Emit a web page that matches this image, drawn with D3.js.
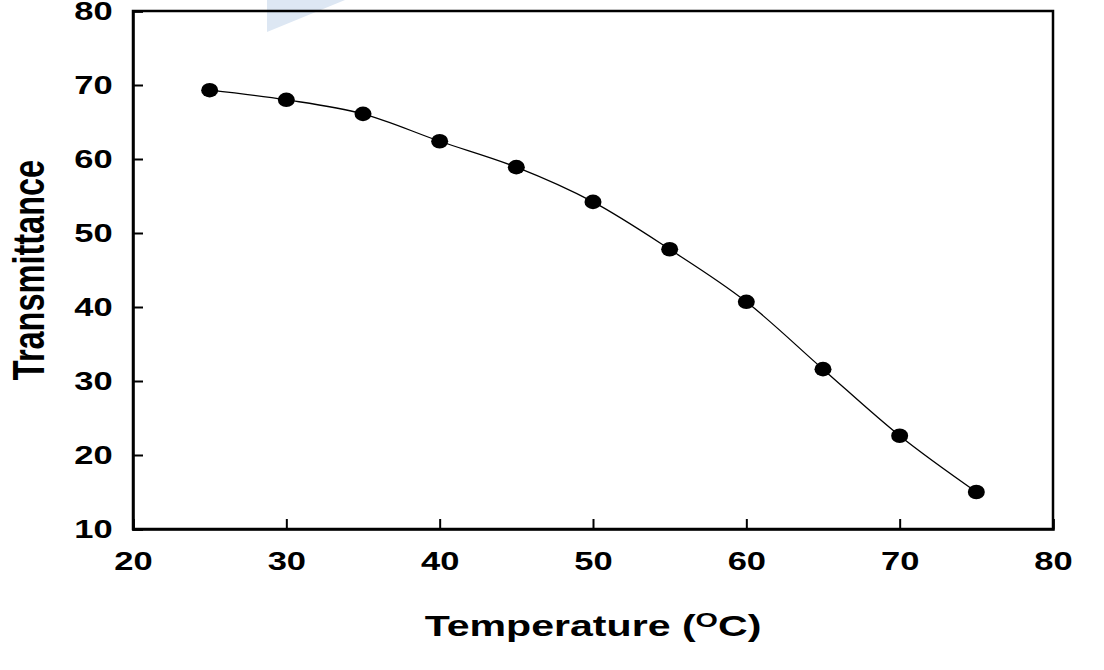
<!DOCTYPE html>
<html><head><meta charset="utf-8">
<script src="https://cdn.jsdelivr.net/npm/d3@7"></script>
<style>body{margin:0;background:#fff}svg{display:block}text{font-family:"Liberation Sans",Arial,sans-serif;font-weight:bold;fill:#000}</style>
</head><body><svg id="c" width="1104" height="670"></svg>
<script>
const temperatures = [25, 30, 35, 40, 45, 50, 55, 60, 65, 70, 75];
const transmittance = [69.3, 68.0, 66.1, 62.4, 58.9, 54.2, 47.8, 40.7, 31.6, 22.6, 15.0];
const xTicks = [20, 30, 40, 50, 60, 70, 80];
const yTicks = [10, 20, 30, 40, 50, 60, 70, 80];

const svg = d3.select("#c");
const L = 133, R = 1053, T = 11, B = 529;
const SX = 1.38;
const x = d3.scaleLinear().domain([20, 80]).range([L, R]);
const y = d3.scaleLinear().domain([10, 80]).range([B, T]);

// faint artifact
svg.append("polygon").attr("points", "267,0 345,0 267,32").attr("fill", "#dde7f3");

// frame
svg.append("rect").attr("x", L).attr("y", T).attr("width", R - L).attr("height", B - T)
  .attr("fill", "none").attr("stroke", "#000").attr("stroke-width", 2.5);

const xa = svg.append("g").attr("transform", `translate(0,${B})`)
  .call(d3.axisBottom(x).tickValues(xTicks).tickSize(-10).tickPadding(23).tickFormat(d3.format("d")));
const ya = svg.append("g").attr("transform", `translate(${L},0)`)
  .call(d3.axisLeft(y).tickValues(yTicks).tickSize(-10).tickPadding(20).tickFormat(d3.format("d")));
[xa, ya].forEach(a => {
  a.select(".domain").attr("stroke-width", 2.5);
  a.selectAll(".tick line").attr("stroke-width", 2);
  a.selectAll("text").style("font-size", "25px").style("font-family", '"Liberation Sans",Arial,sans-serif').style("font-weight", "bold");
});
xa.selectAll(".tick text").attr("transform", `scale(${SX},1)`);
ya.selectAll(".tick text").attr("x", -20.3 / SX).attr("transform", `scale(${SX},1)`);

const data = temperatures.map((t, i) => [t, transmittance[i]]);
svg.append("path").datum(data)
  .attr("d", d3.line().x(d => x(d[0])).y(d => y(d[1])).curve(d3.curveMonotoneX))
  .attr("fill", "none").attr("stroke", "#000").attr("stroke-width", 1.3);
svg.selectAll("ellipse.pt").data(data).enter().append("ellipse")
  .attr("cx", d => x(d[0])).attr("cy", d => y(d[1])).attr("rx", 8.5).attr("ry", 7.3).attr("fill", "#000");

const xt = svg.append("g").attr("transform", `translate(593,636) scale(1.37,1)`)
  .append("text").attr("text-anchor", "middle").style("font-size", "30px");
xt.append("tspan").text("Temperature (");
xt.append("tspan").attr("dy", -9).style("font-size", "21px").text("O");
xt.append("tspan").attr("dy", 9).text("C)");

svg.append("g").attr("transform", `translate(44,270) scale(${SX},1) rotate(-90)`)
  .append("text").attr("text-anchor", "middle").style("font-size", "32.5px").text("Transmittance");
</script></body></html>
